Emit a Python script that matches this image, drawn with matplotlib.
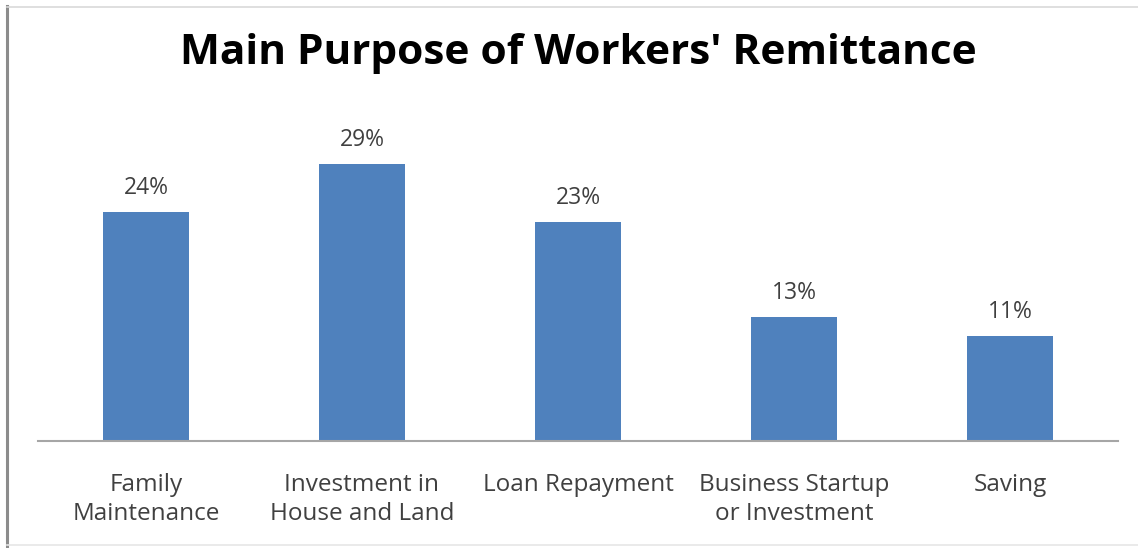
import matplotlib
matplotlib.use("Agg")
import matplotlib.pyplot as plt
from matplotlib.lines import Line2D

# Remittance use, share of households (%)
categories = ["Family\nMaintenance", "Investment in\nHouse and Land", "Loan Repayment",
              "Business Startup\nor Investment", "Saving"]
shares = [24, 29, 23, 13, 11]

BAR_COLOR = "#4F81BD"
TEXT_COLOR = "#404040"

plt.rcParams["font.family"] = ["Open Sans", "DejaVu Sans"]

W, H = 1138, 548
fig = plt.figure(figsize=(W / 100, H / 100), dpi=100)
fig.patch.set_facecolor("white")

# plot area in pixel terms
left, right, base, top = 38, 1118, 441, 107
ax = fig.add_axes([left / W, (H - base) / H, (right - left) / W, (base - top) / H])

x = range(len(categories))
bars = ax.bar(x, shares, width=0.4, color=BAR_COLOR, zorder=2)
ax.set_xlim(-0.5, len(categories) - 0.5)
ax.set_ylim(0, 35)

for b, v in zip(bars, shares):
    ax.annotate(f"{v}%", (b.get_x() + b.get_width() / 2, v),
                xytext=(0, 8.5), textcoords="offset points",
                ha="center", va="bottom", fontsize=16.5, color=TEXT_COLOR)

ax.set_xticks(list(x))
ax.set_xticklabels(categories, fontsize=17.5, color=TEXT_COLOR, linespacing=1.28, va="top")
ax.tick_params(axis="x", length=0, pad=23)
ax.set_yticks([])
for side in ("top", "right", "left"):
    ax.spines[side].set_visible(False)
ax.spines["bottom"].set_color("#A6A6A6")
ax.spines["bottom"].set_linewidth(1.5)

fig.text(578 / W, 1 - 54 / H, "Main Purpose of Workers' Remittance",
         ha="center", va="center", fontsize=30.5, fontweight="bold", color="black")

# outer frame: heavy left edge, faint top and bottom rules
fig.add_artist(Line2D([7 / W, 7 / W], [0, 1 - 6 / H], color="#8C8C8C", lw=2.2))
fig.add_artist(Line2D([7 / W, 1], [1 - 6.5 / H, 1 - 6.5 / H], color="#D9D9D9", lw=1.2))
fig.add_artist(Line2D([7 / W, 1], [3 / H, 3 / H], color="#E6E6E6", lw=1.2))

fig.savefig("out.png", dpi=100)
